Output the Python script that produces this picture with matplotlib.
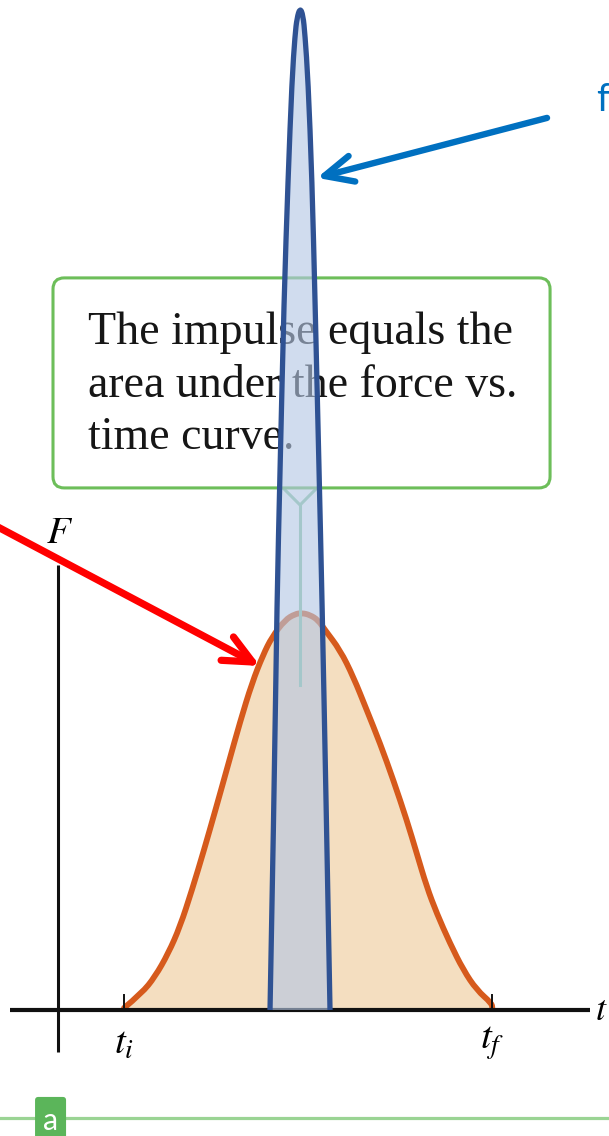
import matplotlib
matplotlib.use("Agg")
import matplotlib.pyplot as plt
from matplotlib.patches import FancyBboxPatch, PathPatch
from matplotlib.path import Path

plt.rcParams['mathtext.fontset'] = 'stix'

# ---------------- data (time t, force F) ----------------
# long-duration, moderate force pulse (orange)
orange_t = [1.000, 1.268, 1.470, 1.671, 1.848, 2.030, 2.212, 2.394, 2.576, 2.758, 2.939,
            3.106, 3.242, 3.439, 3.591, 3.697, 3.818, 3.939, 4.045, 4.273,
            4.474, 4.677, 4.879, 5.080, 5.283, 5.435, 5.586, 5.738, 5.939, 6.141, 6.344,
            6.571, 6.58]
orange_F = [0.05, 0.421, 0.839, 1.428, 2.098, 3.023, 4.030, 5.088, 6.171, 7.254, 8.237,
            8.942, 9.395, 9.824, 9.975, 10.000, 9.950, 9.824, 9.572, 9.068,
            8.395, 7.557, 6.718, 5.793, 4.786, 3.947, 3.106, 2.436, 1.680, 1.008, 0.504,
            0.169, 0.05]

# short-duration, large force spike (blue)
spike_t = [3.212, 3.273, 3.318, 3.364, 3.424, 3.485, 3.545, 3.591, 3.621, 3.667,
           3.712, 3.742, 3.788, 3.848, 3.894, 3.955, 4.000, 4.061, 4.121]
spike_F = [0.00, 5.29, 10.33, 13.60, 17.88, 20.91, 23.43, 24.56, 24.99, 25.24,
           25.06, 24.56, 23.43, 20.91, 17.88, 13.60, 10.33, 5.29, 0.00]

t_ticks = [1.00, 6.58]
t_tick_labels = [r'$t_i$', r'$t_f$']
box_lines = ["The impulse equals the", "area under the force vs.", "time curve."]


def smooth_path(xs, ys, close_to_base=False):
    """Quadratic-Bezier path using the read points as control points."""
    pts = list(zip(xs, ys))
    verts = [pts[0]]
    codes = [Path.MOVETO]
    for i in range(1, len(pts) - 1):
        mid = ((pts[i][0] + pts[i + 1][0]) / 2, (pts[i][1] + pts[i + 1][1]) / 2)
        verts += [pts[i], mid]
        codes += [Path.CURVE3, Path.CURVE3]
    verts.append(pts[-1])
    codes.append(Path.LINETO)
    if close_to_base:
        verts += [(xs[-1], 0), (xs[0], 0), pts[0]]
        codes += [Path.LINETO, Path.LINETO, Path.CLOSEPOLY]
    return Path(verts, codes)


# ---------------- figure ----------------
fig = plt.figure(figsize=(6.09, 11.36), dpi=100)
ax = fig.add_axes([0, 0, 1, 1])
ax.set_xlim(-0.879, 8.348)
ax.set_ylim(-3.174, 25.44)
ax.axis('off')

ORANGE = '#D65A1C'
TAN = '#F4DEC0'
BLUE_EDGE = '#2F5293'
BLUE_FILL = '#B4C7E4'
GREEN = '#6DBE5A'

# orange pulse
ax.add_patch(PathPatch(smooth_path(orange_t, orange_F, True), fc=TAN, ec='none', zorder=1))
ax.add_patch(PathPatch(smooth_path(orange_t, orange_F), fc='none', ec=ORANGE, lw=4.2,
                       joinstyle='round', capstyle='round', zorder=2))

# axes
ax.plot([-0.727, 8.06], [0, 0], color='#111111', lw=3.0, zorder=3, solid_capstyle='butt')
ax.plot([0, 0], [-1.06, 11.2], color='#111111', lw=2.2, zorder=3, solid_capstyle='butt')
for tt in t_ticks:
    ax.plot([tt, tt], [0, 0.38], color='#111111', lw=1.4, zorder=3)
for tt, lab in zip(t_ticks, t_tick_labels):
    ax.text(tt + 0.0, -0.35, lab, fontsize=28, ha='center', va='top', zorder=3)
ax.text(0.03, 11.55, r'$F$', fontsize=28, ha='center', va='bottom', zorder=3)
ax.text(8.13, 0.0, r'$t$', fontsize=26, ha='left', va='center', zorder=3)

# green connector from box to the peak
ax.plot([3.409, 3.667, 3.924], [13.15, 12.72, 13.15], color='#8CC9A0', lw=2.2, zorder=3)
ax.plot([3.667, 3.667], [12.72, 8.19], color='#8CC9A0', lw=2.2, zorder=3)

# annotation box
box = FancyBboxPatch((-0.076, 13.15), 7.531, 5.29,
                     boxstyle='round,pad=0,rounding_size=0.17',
                     mutation_aspect=66 / 39.7,
                     fc='white', ec=GREEN, lw=2.2, zorder=4)
ax.add_patch(box)
for i, line in enumerate(box_lines):
    ax.text(0.455, 16.78 - i * 1.33, line, fontsize=33, family='Liberation Serif',
            ha='left', va='baseline', color='#161616', zorder=5)

# blue spike
ax.add_patch(PathPatch(smooth_path(spike_t, spike_F), fc=BLUE_FILL, ec='none',
                       alpha=0.62, zorder=6))
ax.add_patch(PathPatch(smooth_path(spike_t, spike_F), fc='none', ec=BLUE_EDGE, lw=3.8,
                       joinstyle='round', zorder=7))

# arrows
ax.annotate('', xy=(3.061, 8.665), xytext=(-0.95, 12.20),
            arrowprops=dict(arrowstyle='->,head_length=2.05,head_width=0.95',
                            color='#FF0000', lw=5.2, shrinkA=0, shrinkB=0,
                            capstyle='round', joinstyle='round'), zorder=8)
ax.annotate('', xy=(3.924, 20.96), xytext=(7.409, 22.47),
            arrowprops=dict(arrowstyle='->,head_length=2.05,head_width=0.95',
                            color='#0070C0', lw=4.6, shrinkA=0, shrinkB=0,
                            capstyle='round', joinstyle='round'), zorder=8)
ax.text(8.16, 22.92, 'f', fontsize=27, family='Lato', color='#0070C0',
        ha='left', va='center', zorder=8)

# bottom marker
ax.plot([-0.879, 8.348], [-2.72, -2.72], color='#9AD494', lw=2.3, zorder=3)
ab = FancyBboxPatch((-0.348, -3.4), 0.47, 1.21,
                    boxstyle='round,pad=0,rounding_size=0.05',
                    mutation_aspect=66 / 39.7, fc='#5BB55A', ec='none', zorder=4)
ax.add_patch(ab)
ax.text(-0.113, -2.80, 'a', fontsize=22, family='Lato', color='white',
        ha='center', va='center', zorder=5)

fig.savefig('out.png', dpi=100)
